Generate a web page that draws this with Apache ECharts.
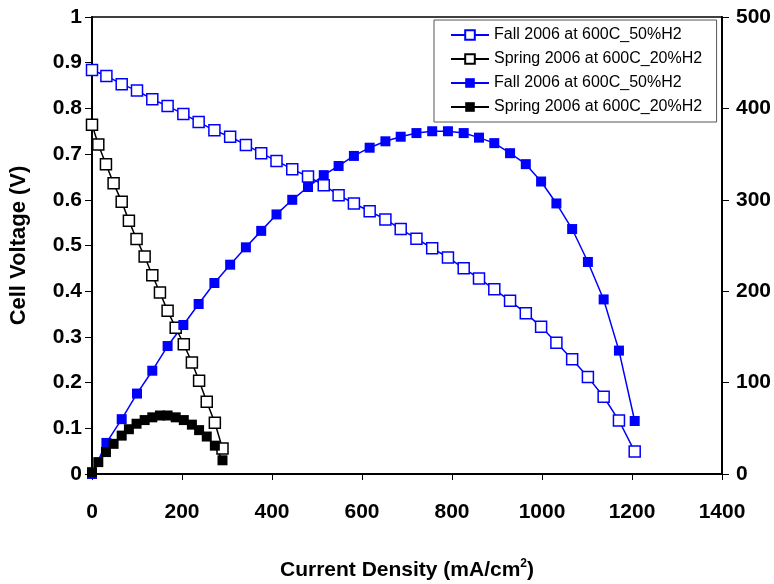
<!DOCTYPE html>
<html>
<head>
<meta charset="utf-8">
<script src="https://cdn.jsdelivr.net/npm/echarts@6/dist/echarts.min.js"></script>
<style>
  html, body { margin: 0; padding: 0; background: #fff; }
  #chart { width: 774px; height: 584px; }
</style>
</head>
<body>
<div id="chart"></div>
<script>
// Fall 2006 at 600C, 50% H2
const fallCurrent = [0, 32, 66, 100, 134, 168, 203, 237, 272, 307, 342, 376, 410, 445, 480, 515, 548, 582, 617, 652, 686, 721, 756, 791, 826, 860, 894, 929, 964, 998, 1032, 1067, 1102, 1137, 1171, 1206];
const fallVoltage = [0.884, 0.871, 0.853, 0.839, 0.820, 0.805, 0.788, 0.770, 0.752, 0.738, 0.720, 0.702, 0.685, 0.667, 0.651, 0.632, 0.610, 0.592, 0.575, 0.557, 0.536, 0.515, 0.494, 0.474, 0.450, 0.428, 0.404, 0.379, 0.352, 0.322, 0.287, 0.251, 0.212, 0.169, 0.117, 0.049];
const fallPower = [0, 34, 60, 88, 113, 140, 163, 186, 209, 229, 248, 266, 284, 300, 314, 327, 337, 348, 357, 364, 369, 373, 375, 375, 373, 368, 362, 351, 339, 320, 296, 268, 232, 191, 135, 58];

// Spring 2006 at 600C, 20% H2
const springCurrent = [0, 14, 31, 48, 66, 82, 99, 117, 134, 151, 168, 186, 204, 222, 238, 255, 273, 290];
const springVoltage = [0.764, 0.721, 0.678, 0.636, 0.596, 0.554, 0.514, 0.476, 0.435, 0.397, 0.357, 0.320, 0.284, 0.244, 0.204, 0.158, 0.112, 0.056];
const springPower = [2, 13, 24, 33, 42, 49, 55, 59, 62, 64, 64, 62, 59, 54, 48, 41, 31, 15];

const legendNames = ['Fall 2006 at 600C_50%H2', 'Spring 2006 at 600C_20%H2'];

const font = "'Liberation Sans', Arial, sans-serif";
const BLUE = '#0000ff';

function pairs(xs, ys) {
  return xs.map((x, i) => [x, ys[i]]);
}

function makeSeries(name, xs, ys, color, filled, axis) {
  return {
    name: name,
    type: 'line',
    yAxisIndex: axis,
    data: pairs(xs, ys),
    symbol: 'rect',
    symbolSize: filled ? 10 : 11,
    showSymbol: true,
    lineStyle: { color: color, width: 1.5 },
    itemStyle: filled
      ? { color: color, borderColor: color, borderWidth: 0 }
      : { color: '#ffffff', borderColor: color, borderWidth: 1.5 },
    animation: false
  };
}

const plain = v => String(v);

const chart = echarts.init(document.getElementById('chart'));
chart.setOption({
  backgroundColor: '#ffffff',
  animation: false,
  grid: {
    left: 92, right: 52, top: 17, bottom: 110,
    containLabel: false,
    outerBoundsMode: 'none',
    show: true, borderColor: '#000', borderWidth: 1.5
  },
  legend: {
    orient: 'vertical',
    left: 434, top: 20,
    padding: [7, 10, 7, 16],
    itemGap: 8,
    itemWidth: 38,
    itemHeight: 12,
    backgroundColor: '#fff',
    borderColor: '#555',
    borderWidth: 1,
    textStyle: { fontFamily: font, fontSize: 16, color: '#000' },
    data: [
      { name: legendNames[0] },
      { name: legendNames[1] + ' ' },
      { name: legendNames[0] + ' ' },
      { name: legendNames[1] }
    ]
  },
  xAxis: {
    type: 'value',
    min: 0, max: 1400, interval: 200,
    name: '{a|Current Density (mA/cm}{s|2}{a|)}',
    nameLocation: 'middle',
    nameGap: 84,
    nameTextStyle: {
      rich: {
        a: { fontFamily: font, fontWeight: 'bold', fontSize: 21, color: '#000' },
        s: { fontFamily: font, fontWeight: 'bold', fontSize: 12, color: '#000', verticalAlign: 'top', padding: [0, 0, 12, 0] }
      }
    },
    axisLine: { lineStyle: { color: '#000', width: 2 } },
    axisTick: { inside: false, length: 6, lineStyle: { color: '#000' } },
    axisLabel: { fontFamily: font, fontWeight: 'bold', fontSize: 21, color: '#000', margin: 28, formatter: plain },
    splitLine: { show: false }
  },
  yAxis: [
    {
      type: 'value',
      min: 0, max: 1, interval: 0.1,
      name: 'Cell Voltage (V)',
      nameLocation: 'middle',
      nameGap: 62,
      nameTextStyle: { fontFamily: font, fontWeight: 'bold', fontSize: 22, color: '#000' },
      axisLine: { show: true, lineStyle: { color: '#000', width: 2 } },
      axisTick: { show: true, inside: false, length: 7, lineStyle: { color: '#000' } },
      axisLabel: { fontFamily: font, fontWeight: 'bold', fontSize: 21, color: '#000', margin: 10, formatter: plain },
      splitLine: { show: false }
    },
    {
      type: 'value',
      position: 'right',
      min: 0, max: 500, interval: 100,
      axisLine: { show: true, lineStyle: { color: '#000', width: 2 } },
      axisTick: { show: true, inside: false, length: 7, lineStyle: { color: '#000' } },
      axisLabel: { fontFamily: font, fontWeight: 'bold', fontSize: 21, color: '#000', margin: 14, formatter: plain },
      splitLine: { show: false }
    }
  ],
  series: [
    makeSeries(legendNames[0], fallCurrent, fallVoltage, BLUE, false, 0),
    makeSeries(legendNames[1] + ' ', springCurrent, springVoltage, '#000', false, 0),
    makeSeries(legendNames[0] + ' ', fallCurrent, fallPower, BLUE, true, 1),
    makeSeries(legendNames[1], springCurrent, springPower, '#000', true, 1)
  ]
});
</script>
</body>
</html>
